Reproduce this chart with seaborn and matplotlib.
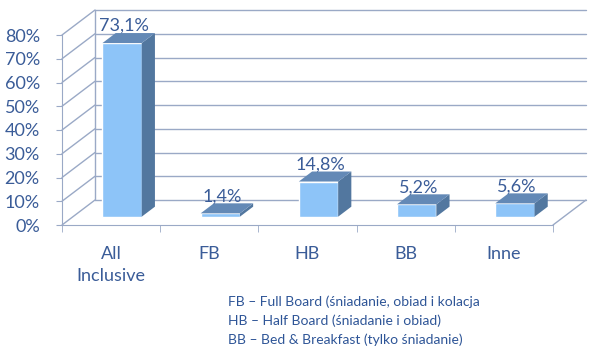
import numpy as np
import pandas as pd
import matplotlib.pyplot as plt
import seaborn as sns
from matplotlib.lines import Line2D
from matplotlib.patches import Polygon
from matplotlib.transforms import IdentityTransform, offset_copy

categories = ['All\nInclusive', 'FB', 'HB', 'BB', 'Inne']
values = [73.1, 1.4, 14.8, 5.2, 5.6]
value_labels = ['73,1%', '1,4%', '14,8%', '5,2%', '5,6%']
y_ticks = [0, 10, 20, 30, 40, 50, 60, 70, 80]
notes = ['FB – Full Board (śniadanie, obiad i kolacja',
         'HB – Half Board (śniadanie i obiad)',
         'BB – Bed & Breakfast (tylko śniadanie)']

sns.set_style('white')
plt.rcParams['font.family'] = ['Lato', 'DejaVu Sans']

front_col = '#8DC4F8'
side_col = '#52779F'
top_col = '#6389B6'
grid_col = '#9AA9C6'
text_col = '#3A5C98'

fig = plt.figure(figsize=(6, 3.57), dpi=100)
ax = fig.add_axes([62 / 600, 1 - 225 / 357, 491 / 600, 190 / 357])

df = pd.DataFrame({'kat': categories, 'val': values})
sns.barplot(data=df, x='kat', y='val', color=front_col, width=0.4,
            saturation=1, ax=ax, zorder=3)
ax.set_xlim(-0.5, 4.5)
ax.set_ylim(0, 80)

# glebokosc "3D" w pikselach
D = np.array([33.0, 25.0])      # cala glebokosc wykresu
F = D / 3                        # przesuniecie frontu slupka
B = np.array([13.2, 10.0])      # glebokosc slupka


def px(x, y, off=(0, 0)):
    return ax.transData.transform((x, y)) + np.asarray(off)


def line(p, q, **kw):
    ax.add_line(Line2D([p[0], q[0]], [p[1], q[1]], transform=IdentityTransform(),
                       color=grid_col, lw=1, clip_on=False, **kw))


# tylna sciana + lewa sciana
for v in y_ticks:
    line(px(-0.5, v, D), px(4.5, v, D), zorder=1)
    line(px(-0.5, v), px(-0.5, v, D), zorder=1)
line(px(-0.5, 0, D), px(-0.5, 80, D), zorder=1)
line(px(4.5, 0), px(4.5, 0, D), zorder=1)

# slupki 3D
for p, lab in zip(ax.patches, value_labels):
    p.set_transform(offset_copy(ax.transData, fig, x=F[0], y=F[1], units='dots'))
    p.set_clip_on(False)
    x0, x1, h = p.get_x(), p.get_x() + p.get_width(), p.get_height()
    side = [px(x1, 0, F), px(x1, h, F), px(x1, h, F + B), px(x1, 0, F + B)]
    top = [px(x0, h, F), px(x1, h, F), px(x1, h, F + B), px(x0, h, F + B)]
    for pts, c in [(side, side_col), (top, top_col)]:
        ax.add_patch(Polygon(pts, closed=True, facecolor=c, edgecolor='none',
                             transform=IdentityTransform(), clip_on=False, zorder=3))
    tx, ty = px((x0 + x1) / 2, h, F + np.array([2, 17]))
    ax.text(tx, ty, lab, transform=IdentityTransform(), ha='center', va='center',
            fontsize=13, color=text_col, zorder=5)

# osie
for s in ['top', 'right']:
    ax.spines[s].set_visible(False)
for s in ['left', 'bottom']:
    ax.spines[s].set_color(grid_col)
    ax.spines[s].set_zorder(2)
ax.set_yticks(y_ticks)
ax.set_yticklabels([f'{v}%' for v in y_ticks])
ax.set_xticks(range(len(categories)))
ax.set_xticklabels(categories, linespacing=1.45)
ax.set_xticks(np.arange(-0.5, 5, 1), minor=True)
ax.tick_params(axis='y', left=True, length=4, color=grid_col, labelsize=13,
               labelcolor=text_col, pad=12)
ax.tick_params(axis='x', which='major', length=0, labelsize=13,
               labelcolor=text_col, pad=15)
ax.tick_params(axis='x', which='minor', bottom=True, length=5, color=grid_col)
for t in ax.get_xticklabels():
    t.set_verticalalignment('top')
ax.set_xlabel('')
ax.set_ylabel('')

for i, n in enumerate(notes):
    fig.text(228 / 600, 1 - (302 + 19 * i) / 357, n, fontsize=10,
             color='#2E5597', va='center', ha='left')

fig.savefig('out.png', dpi=100)
